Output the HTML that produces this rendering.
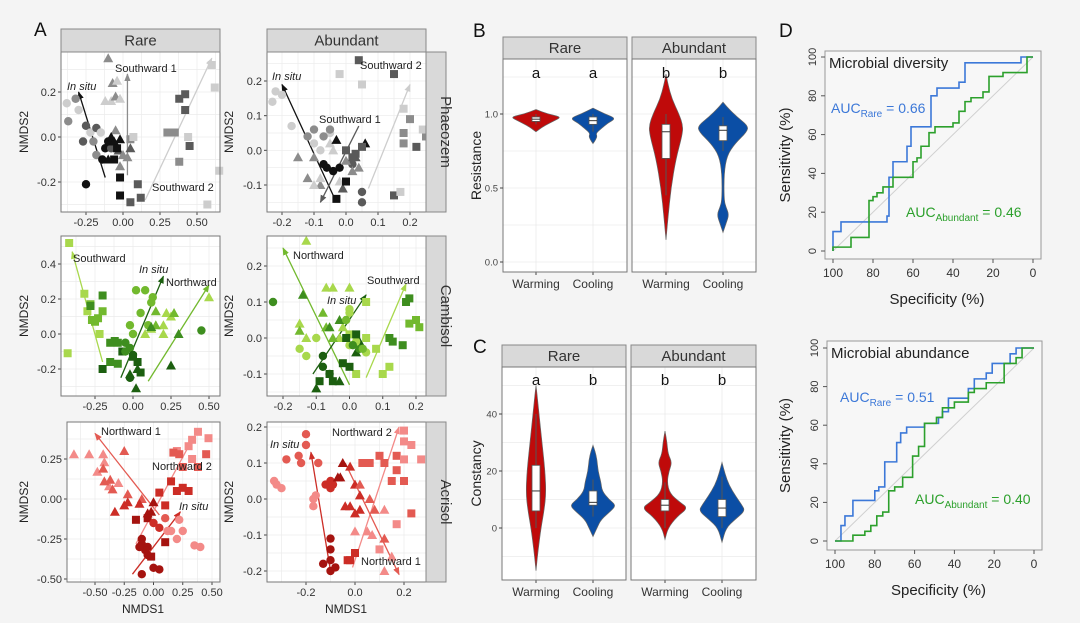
<!DOCTYPE html>
<html><head><meta charset="utf-8"><style>
html,body{margin:0;padding:0;background:#f4f4f4;}
svg{display:block;font-family:"Liberation Sans",Arial,sans-serif;}
</style></head><body>
<svg id="fig" width="1080" height="623" viewBox="0 0 1080 623" xmlns="http://www.w3.org/2000/svg">
<rect x="0" y="0" width="1080" height="623" fill="#f4f4f4"/>
</svg>
<script>
// ===== Panel A data =====
const phaeozemRarePoints=[[-0.38,0.15,'c',0],[-0.37,0.07,'c',1],[-0.32,0.17,'c',1],[-0.3,0.12,'c',0],[-0.25,0.05,'c',2],[-0.22,0.02,'c',0],[-0.2,-0.02,'c',1],[-0.18,0.04,'c',2],[-0.27,-0.02,'c',2],[-0.15,0.02,'c',0],[-0.12,-0.05,'c',3],[-0.18,-0.08,'c',1],[-0.14,-0.1,'c',3],[-0.25,-0.21,'c',3],[-0.08,-0.05,'c',2],[-0.1,-0.02,'c',3],
[-0.1,0.35,'t',1],[-0.07,0.24,'t',1],[-0.04,0.25,'t',0],[-0.12,0.16,'t',0],[-0.08,0.16,'t',0],[-0.05,0.18,'t',1],[-0.02,0.17,'t',0],[-0.05,0.03,'t',1],[-0.02,-0.01,'t',3],[-0.08,0.0,'t',3],[-0.1,-0.1,'t',3],[-0.03,-0.06,'t',2],[0.0,-0.08,'t',1],[0.03,-0.09,'t',1],[-0.02,-0.13,'t',1],[0.05,-0.05,'t',2],[-0.06,-0.02,'t',3],
[0.3,0.02,'s',1],[0.35,0.02,'s',1],[0.38,0.17,'s',2],[0.42,0.19,'s',2],[0.42,0.12,'s',2],[0.45,-0.04,'s',2],[0.44,0.0,'s',0],[0.38,-0.11,'s',1],[0.6,0.32,'s',0],[0.62,0.22,'s',0],[0.65,-0.15,'s',0],[0.57,-0.3,'s',0],[0.05,-0.01,'s',1],[0.07,0.0,'s',0],[-0.04,-0.05,'s',3],[-0.06,-0.1,'s',3],[-0.02,-0.18,'s',3],[-0.02,-0.26,'s',3],[0.05,-0.29,'s',2],[0.1,-0.21,'s',2],[0.12,-0.27,'s',2]];
const phaeozemAbundantPoints=[[-0.23,0.14,'c',0],[-0.22,0.17,'c',0],[-0.2,0.16,'c',0],[-0.17,0.07,'c',0],[-0.1,0.02,'c',0],[-0.08,0.0,'c',0],[-0.05,0.05,'c',0],[-0.1,0.06,'c',1],[-0.07,0.04,'c',1],[-0.05,0.06,'c',1],[-0.12,0.04,'c',1],[-0.07,-0.04,'c',3],[-0.06,-0.05,'c',3],[-0.04,-0.06,'c',3],[-0.02,-0.05,'c',3],[0.05,-0.12,'c',2],[0.05,-0.15,'c',2],[0.02,-0.04,'c',2],
[-0.15,-0.02,'t',1],[-0.12,-0.08,'t',1],[-0.1,-0.02,'t',1],[-0.08,-0.1,'t',1],[0.02,-0.06,'t',1],[0.04,-0.05,'t',1],[0.0,-0.03,'t',1],[-0.1,-0.1,'t',0],[-0.08,-0.08,'t',0],[-0.05,0.02,'t',0],[-0.02,-0.09,'t',0],[-0.04,0.0,'t',0],[-0.03,0.03,'t',3],[0.06,0.02,'t',3],[-0.01,-0.11,'t',2],[0.03,-0.02,'t',2],
[0.04,0.26,'s',2],[0.15,0.22,'s',2],[0.0,0.0,'s',2],[0.03,-0.01,'s',2],[0.05,0.01,'s',2],[0.02,-0.02,'s',2],[0.15,-0.13,'s',2],[0.22,0.01,'s',2],[0.2,0.09,'s',1],[-0.03,-0.14,'s',3],[0.0,-0.09,'s',3],[0.18,0.05,'s',1],[0.18,0.02,'s',1],[0.25,0.04,'s',1],[-0.02,0.22,'s',0],[0.05,0.19,'s',0],[0.18,0.12,'s',0],[0.24,0.06,'s',0],[0.27,0.05,'s',0],[0.17,-0.12,'s',0]];
const cambisolRarePoints=[[-0.42,0.52,'s',0],[-0.43,-0.11,'s',0],[-0.32,0.23,'s',0],[-0.3,0.13,'s',0],[-0.28,0.17,'s',1],[-0.22,0.0,'s',0],[-0.27,0.08,'s',1],[-0.25,0.07,'s',1],[-0.23,0.09,'s',1],[-0.28,0.16,'s',2],[-0.2,0.22,'s',2],[-0.2,0.13,'s',1],[-0.15,-0.05,'s',2],[-0.12,-0.04,'s',2],[-0.1,-0.05,'s',2],[-0.15,-0.16,'s',2],[-0.1,-0.17,'s',2],[0.0,-0.13,'s',3],[0.03,-0.16,'s',3],[0.05,-0.22,'s',3],[-0.2,-0.2,'s',3],[-0.07,-0.1,'s',3],
[0.02,0.25,'c',1],[0.08,0.25,'c',1],[0.12,0.18,'c',1],[0.05,0.12,'c',1],[0.0,0.0,'c',1],[-0.02,0.05,'c',1],[0.1,0.05,'c',1],[-0.05,-0.05,'c',2],[-0.02,-0.08,'c',2],[0.0,-0.12,'c',3],[-0.05,-0.1,'c',2],[0.45,0.02,'c',2],[-0.02,-0.25,'c',3],[0.13,0.21,'c',1],
[0.08,0.0,'t',0],[0.12,0.03,'t',0],[0.2,0.05,'t',0],[0.22,0.12,'t',0],[0.25,0.1,'t',0],[0.5,0.21,'t',0],[0.2,0.0,'t',0],[0.15,0.05,'t',1],[0.27,0.12,'t',1],[0.3,0.0,'t',2],[0.15,0.13,'t',1],[0.12,0.04,'t',2],[0.25,-0.18,'t',3],[-0.02,-0.23,'t',3],[0.03,-0.2,'t',3],[0.02,-0.31,'t',3]];
const cambisolAbundantPoints=[[-0.13,0.27,'t',0],[-0.05,0.14,'t',0],[-0.07,0.14,'t',0],[0.0,0.14,'t',0],[-0.15,0.04,'t',0],[-0.13,0.0,'t',0],[-0.02,0.03,'t',0],[-0.03,0.0,'t',0],[-0.15,0.02,'t',1],[-0.08,0.07,'t',1],[-0.05,0.0,'t',1],[-0.07,0.03,'t',1],[-0.14,0.12,'t',2],[-0.06,0.03,'t',2],[-0.03,0.05,'t',2],[0.02,-0.04,'t',3],[0.03,-0.01,'t',3],[-0.1,-0.14,'t',3],[-0.03,-0.12,'t',3],
[-0.23,0.1,'c',2],[-0.08,-0.05,'c',3],[-0.06,-0.1,'c',3],[-0.08,-0.08,'c',3],[0.03,-0.03,'c',2],[-0.15,-0.03,'c',0],[0.0,0.08,'c',0],[0.0,0.07,'c',0],[-0.1,0.0,'c',0],[0.0,-0.02,'c',0],[0.05,-0.04,'c',0],[0.02,-0.01,'c',0],[-0.13,-0.05,'c',0],[-0.01,0.05,'c',1],[0.04,-0.03,'c',1],[0.01,-0.02,'c',2],
[0.05,0.1,'s',0],[0.08,-0.03,'s',0],[0.1,-0.1,'s',0],[0.12,-0.08,'s',0],[0.02,-0.1,'s',0],[0.0,0.01,'s',0],[0.05,0.0,'s',0],[0.18,0.04,'s',1],[0.2,0.05,'s',1],[0.21,0.03,'s',1],[0.17,0.1,'s',2],[0.18,0.11,'s',2],[0.12,0.0,'s',2],[0.13,-0.01,'s',2],[0.16,-0.02,'s',2],[-0.02,-0.07,'s',3],[0.0,-0.08,'s',3],[-0.06,-0.1,'s',3],[-0.05,-0.12,'s',3],[-0.09,-0.12,'s',3],[-0.01,0.0,'s',3],[0.02,0.01,'s',3]];
const acrisolRarePoints=[[-0.68,0.28,'t',0],[-0.55,0.28,'t',0],[-0.48,0.17,'t',0],[-0.43,0.28,'t',0],[-0.42,0.23,'t',0],[-0.38,0.08,'t',0],[-0.3,0.1,'t',0],[-0.43,0.19,'t',1],[-0.37,0.12,'t',1],[-0.35,0.06,'t',1],[-0.22,0.03,'t',1],[-0.1,0.0,'t',1],[-0.25,0.3,'t',1],[-0.42,0.11,'t',1],[-0.33,-0.08,'t',2],[-0.25,-0.04,'t',2],[-0.22,-0.02,'t',2],[-0.12,-0.03,'t',2],[-0.05,-0.09,'t',3],[-0.02,-0.08,'t',3],[0.0,-0.02,'t',3],
[0.2,0.3,'s',0],[0.33,0.37,'s',0],[0.38,0.42,'s',0],[0.47,0.38,'s',0],[0.33,0.25,'s',0],[0.3,0.33,'s',0],[0.17,0.29,'s',1],[0.22,0.28,'s',1],[0.25,0.2,'s',1],[0.38,0.2,'s',1],[0.45,0.28,'s',1],[0.15,0.11,'s',2],[0.2,0.05,'s',2],[0.3,0.05,'s',2],[0.25,0.07,'s',2],[0.05,0.04,'s',2],[0.1,-0.04,'s',2],[-0.15,-0.13,'s',3],[-0.05,-0.12,'s',3],[0.1,-0.27,'s',3],[-0.02,-0.36,'s',3],
[0.35,-0.29,'c',0],[0.4,-0.3,'c',0],[0.2,-0.25,'c',0],[0.25,-0.2,'c',0],[0.15,-0.2,'c',0],[0.22,-0.13,'c',0],[0.12,-0.2,'c',0],[0.0,-0.15,'c',2],[0.05,-0.18,'c',2],[0.1,-0.12,'c',1],[-0.1,-0.25,'c',3],[-0.1,-0.28,'c',3],[-0.05,-0.3,'c',3],[-0.05,-0.35,'c',3],[0.0,-0.43,'c',3],[0.05,-0.44,'c',3],[-0.1,-0.47,'c',3],[-0.07,-0.32,'c',3],[-0.12,-0.3,'c',3]];
const acrisolAbundantPoints=[[-0.33,0.05,'c',0],[-0.32,0.04,'c',0],[-0.3,0.03,'c',0],[-0.2,0.18,'c',1],[-0.2,0.15,'c',1],[-0.22,0.1,'c',1],[-0.23,0.12,'c',1],[-0.28,0.11,'c',1],[-0.15,0.1,'c',1],[-0.17,0.0,'c',0],[-0.16,0.01,'c',0],[-0.17,-0.02,'c',0],[-0.12,0.04,'c',2],[-0.1,0.03,'c',2],[-0.1,0.05,'c',2],[-0.09,0.04,'c',2],[-0.1,-0.11,'c',3],[-0.1,-0.14,'c',3],[-0.1,-0.17,'c',3],[-0.08,-0.19,'c',3],[-0.1,-0.2,'c',3],[-0.13,-0.18,'c',3],
[-0.05,0.1,'t',3],[-0.06,0.06,'t',3],[-0.07,0.06,'t',3],[-0.02,-0.02,'t',2],[-0.04,-0.02,'t',2],[0.02,-0.03,'t',2],[0.0,-0.04,'t',2],[0.02,0.01,'t',2],[0.0,0.04,'t',2],[0.02,0.04,'t',1],[0.06,0.0,'t',1],[0.08,-0.03,'t',1],[-0.02,0.09,'t',2],[0.0,-0.09,'t',0],[0.05,-0.09,'t',0],[0.07,-0.1,'t',0],[0.12,-0.03,'t',0],[0.12,-0.11,'t',1],[0.15,-0.16,'t',0],[0.12,-0.2,'t',0],
[0.03,0.1,'s',1],[0.06,0.1,'s',1],[0.1,0.12,'s',1],[0.12,0.1,'s',1],[0.17,0.12,'s',1],[0.17,0.08,'s',1],[0.15,0.05,'s',1],[0.2,0.05,'s',1],[-0.03,-0.17,'s',2],[0.0,-0.15,'s',2],[-0.02,-0.17,'s',2],[0.2,0.19,'s',0],[0.2,0.16,'s',0],[0.23,0.15,'s',0],[0.27,0.11,'s',0],[0.2,0.11,'s',0],[0.23,-0.04,'s',1],[0.17,-0.07,'s',0],[0.1,-0.14,'s',0]];
// arrows: [x0,y0,x1,y1,colorIndex]
const phaeozemRareArrows=[[-0.12,-0.18,-0.3,0.2,3],[0.03,-0.17,0.03,0.28,1],[0.15,-0.28,0.6,0.35,0]];
const phaeozemAbundantArrows=[[-0.04,-0.13,-0.2,0.19,3],[0.04,0.07,-0.08,-0.15,2],[0.07,-0.11,0.2,0.19,0]];
const cambisolRareArrows=[[-0.2,-0.16,-0.4,0.47,0],[-0.08,-0.25,0.2,0.33,3],[0.1,-0.27,0.5,0.28,1]];
const cambisolAbundantArrows=[[0.0,-0.13,-0.2,0.25,1],[-0.11,-0.1,0.05,0.12,3],[0.05,-0.11,0.17,0.15,0]];
const acrisolRareArrows=[[0.05,-0.1,-0.5,0.41,1],[-0.15,-0.28,0.33,0.37,0],[-0.18,-0.47,0.23,-0.08,2]];
const acrisolAbundantArrows=[[-0.1,-0.2,-0.18,0.13,2],[-0.01,-0.19,0.18,0.2,0],[-0.04,0.1,0.18,-0.21,1]];
const xTicksA=[[-0.25,0,0.25,0.5],[-0.2,-0.1,0,0.1,0.2],[-0.25,0,0.25,0.5],[-0.2,-0.1,0,0.1,0.2],[-0.5,-0.25,0,0.25,0.5],[-0.2,0,0.2]];
const yTicksA=[[-0.2,0,0.2],[-0.1,0,0.1,0.2],[-0.2,0,0.2,0.4],[-0.1,0,0.1,0.2],[-0.5,-0.25,0,0.25],[-0.2,-0.1,0,0.1,0.2]];
const xDecA=[2,1,2,1,2,1];
const yDecA=[1,1,1,1,2,1];

// ===== Panel B/C data =====
const violinCategories=['Warming','Cooling','Warming','Cooling'];
const resistanceProfiles=[
 [[0.88,0],[0.92,8],[0.96,20],[0.98,25],[1.0,12],[1.03,0]],
 [[0.80,0],[0.83,3],[0.85,4],[0.87,3],[0.9,8],[0.94,15],[0.97,23],[1.0,12],[1.04,0]],
 [[0.15,0],[0.3,2],[0.5,5],[0.7,10],[0.85,16],[0.92,17],[1.0,13],[1.1,6],[1.2,2],[1.27,0]],
 [[0.2,0],[0.26,3],[0.32,6],[0.37,3],[0.42,1],[0.6,1],[0.72,4],[0.8,12],[0.88,24],[0.92,25],[0.98,14],[1.04,5],[1.08,0]]];
const resistanceBoxes=[[0.95,0.965,0.98,0.93,1.0],[0.93,0.955,0.98,0.88,1.0],[0.70,0.88,0.93,0.45,1.0],[0.82,0.89,0.92,0.75,0.98]];
const resistanceLetters=['a','a','b','b'];
const resistanceTicks=[0,0.5,1.0];
const constancyProfiles=[
 [[-15,0],[-8,2],[0,5],[6,8],[12,10],[20,9],[30,6],[40,3],[47,1],[50,0]],
 [[-3,0],[0,4],[3,8],[6,18],[8,23],[10,16],[13,9],[16,8],[20,5],[24,4],[27,2],[29,0]],
 [[-4,0],[0,3],[4,12],[7,23],[9,15],[12,5],[16,2],[20,4],[23,7],[26,3],[30,2],[34,0]],
 [[-5,0],[0,4],[3,13],[6,23],[8,20],[11,14],[15,7],[19,3],[23,0]]];
const constancyBoxes=[[6,13,22,0,40],[8,9,13,4,17],[6,8,10,0,16],[4,7,10,0,18]];
const constancyLetters=['a','b','b','b'];
const constancyTicks=[0,20,40];

// ===== Panel D data =====
const rocDivRareSpec=[100,100,96,96,73,73,72,72,70,70,63,63,61,61,51,51,48,48,37,37,34,34,6,6,0];
const rocDivRareSens=[0,10,10,15,15,18,18,38,38,46,46,54,54,64,64,80,80,84,84,87,87,97,97,100,100];
const rocDivAbSpec=[100,100,91,91,82,82,80,80,78,78,75,75,70,70,60,60,58,58,56,56,52,52,49,49,40,40,37,37,34,34,31,31,25,25,22,22,15,15,3,3,0];
const rocDivAbSens=[0,2,2,7,7,26,26,28,28,30,30,33,33,38,38,46,46,48,48,54,54,61,61,64,64,66,66,72,72,77,77,79,79,82,82,90,90,92,92,100,100];
const rocAbuRareSpec=[100,97,97,95,95,91,91,80,80,78,78,75,75,69,69,67,67,64,64,55,55,48,48,46,46,43,43,33,33,30,30,24,24,21,21,12,12,9,9,0];
const rocAbuRareSens=[0,0,8,8,13,13,21,21,26,26,28,28,41,41,51,51,56,56,59,59,61,61,64,64,67,67,74,74,79,79,84,84,87,87,92,92,97,97,100,100];
const rocAbuAbSpec=[100,91,91,85,85,82,82,79,79,76,76,73,73,70,70,66,66,61,61,58,58,55,55,49,49,46,46,40,40,33,33,30,30,24,24,15,15,9,9,6,6,0];
const rocAbuAbSens=[0,0,3,3,5,5,8,8,13,13,15,15,26,26,28,28,33,33,44,44,49,49,61,61,64,64,69,69,72,72,77,77,79,79,82,82,92,92,95,95,100,100];
const rocTicks=[100,80,60,40,20,0];

// ===== drawing =====
const NS='http://www.w3.org/2000/svg';
const svg=document.getElementById('fig');
function mk(tag,attrs,parent){const e=document.createElementNS(NS,tag);for(const k in attrs)e.setAttribute(k,attrs[k]);(parent||svg).appendChild(e);return e;}
function txt(s,x,y,size,attrs,parent){const e=mk('text',Object.assign({x:x,y:y,'font-size':size,fill:'#222'},attrs||{}),parent);e.textContent=s;return e;}
function lin(d0,p0,d1,p1){return v=>p0+(v-d0)*(p1-p0)/(d1-d0);}

const greys=['#cdcdcd','#8c8c8c','#5a5a5a','#111111'];
const greens=['#a8d84c','#72b92e','#3e8e1f','#1c5f10'];
const reds=['#f38a88','#e35a52','#cc2d26','#a5130f'];

const scatterPanels=[
 {name:'phaeozem-rare',r:[61,52,220,212],xa:[-0.25,86,0.5,197],ya:[0.2,92,-0.2,182],pts:phaeozemRarePoints,arr:phaeozemRareArrows,pal:greys,labels:[['In situ',67,86,1],['Southward 1',115,68,0],['Southward 2',152,187,0]]},
 {name:'phaeozem-abundant',r:[267,52,426,212],xa:[-0.2,282,0.2,410],ya:[0.2,81,-0.1,185],pts:phaeozemAbundantPoints,arr:phaeozemAbundantArrows,pal:greys,labels:[['In situ',272,76,1],['Southward 2',360,65,0],['Southward 1',319,119,0]]},
 {name:'cambisol-rare',r:[61,236,220,396],xa:[-0.25,95,0.5,209],ya:[0.4,264,-0.2,369],pts:cambisolRarePoints,arr:cambisolRareArrows,pal:greens,labels:[['Southward',73,258,0],['In situ',139,269,1],['Northward',166,282,0]]},
 {name:'cambisol-abundant',r:[267,236,426,396],xa:[-0.2,283,0.2,416],ya:[0.2,266,-0.1,374],pts:cambisolAbundantPoints,arr:cambisolAbundantArrows,pal:greens,labels:[['Northward',293,255,0],['In situ',327,300,1],['Southward',367,280,0]]},
 {name:'acrisol-rare',r:[67,422,220,582],xa:[-0.5,95,0.5,212],ya:[0.25,459,-0.5,579],pts:acrisolRarePoints,arr:acrisolRareArrows,pal:reds,labels:[['Northward 1',101,431,0],['Northward 2',152,466,0],['In situ',179,506,1]]},
 {name:'acrisol-abundant',r:[267,422,426,582],xa:[-0.2,306,0.2,404],ya:[0.2,427,-0.2,571],pts:acrisolAbundantPoints,arr:acrisolAbundantArrows,pal:reds,labels:[['In situ',270,444,1],['Northward 2',332,432,0],['Northward 1',361,561,0]]}
];

// arrow marker defs
const defs=mk('defs',{});
['#111','#555','#8c8c8c','#bbb'].forEach((c,i)=>{});
let markerId=0;
function arrowMarker(color){const id='m'+(markerId++);const m=mk('marker',{id:id,viewBox:'0 0 10 10',refX:9,refY:5,markerWidth:6,markerHeight:6,orient:'auto-start-reverse'},defs);mk('path',{d:'M0,1 L10,5 L0,9 z',fill:color},m);return id;}

scatterPanels.forEach((p,i)=>{
 const g=mk('g',{});
 
 
 const [x0,y0,x1,y1]=p.r;
 const sx=lin(p.xa[0],p.xa[1],p.xa[2],p.xa[3]);
 const sy=lin(p.ya[0],p.ya[1],p.ya[2],p.ya[3]);
 const bg=mk('rect',{x:x0,y:y0,width:x1-x0,height:y1-y0,fill:'#fff'},g);
 
 
 const xt=xTicksA[i],yt=yTicksA[i];
 const xs=xt[1]-xt[0],ys=yt[1]-yt[0];
 // grid minor+major
 for(let v=xt[0]-xs;v<=xt[xt.length-1]+xs+1e-9;v+=xs/2){const px=sx(v);if(px>x0&&px<x1)mk('line',{x1:px,y1:y0,x2:px,y2:y1,stroke:'#ebebeb','stroke-width':0.7},g);}
 for(let v=yt[0]-ys;v<=yt[yt.length-1]+ys+1e-9;v+=ys/2){const py=sy(v);if(py>y0&&py<y1)mk('line',{x1:x0,y1:py,x2:x1,y2:py,stroke:'#ebebeb','stroke-width':0.7},g);}
 xt.forEach(v=>{const px=sx(v);mk('line',{x1:px,y1:y1,x2:px,y2:y1+3,stroke:'#444'},g);
  const t=txt(v.toFixed(xDecA[i]).replace('-0.00','0.00'),px,y1+14,11,{'text-anchor':'middle',fill:'#333'},g);
  
  });
 yt.forEach(v=>{const py=sy(v);mk('line',{x1:x0-3,y1:py,x2:x0,y2:py,stroke:'#444'},g);
  const t=txt(v.toFixed(yDecA[i]),x0-5,py+4,11,{'text-anchor':'end',fill:'#333'},g);
  
  });
 // arrows
 p.arr.forEach(a=>{const col=p.pal[a[4]];const id=arrowMarker(col);
  const l=mk('line',{x1:sx(a[0]),y1:sy(a[1]),x2:sx(a[2]),y2:sy(a[3]),stroke:col,'stroke-width':1.3,'marker-end':'url(#'+id+')'},g);
  
  });
 // points
 p.pts.forEach(pt=>{const cx=sx(pt[0]),cy=sy(pt[1]),col=p.pal[pt[3]];let e;
  if(pt[2]==='c')e=mk('circle',{cx:cx,cy:cy,r:4.2,fill:col},g);
  else if(pt[2]==='s')e=mk('rect',{x:cx-4,y:cy-4,width:8,height:8,fill:col},g);
  else e=mk('polygon',{points:`${cx},${cy-5} ${cx-5},${cy+4} ${cx+5},${cy+4}`,fill:col},g);
  
  });
 p.labels.forEach(l=>{const t=txt(l[0],l[1],l[2]+4,11,{'font-style':l[3]?'italic':'normal',fill:'#222'},g);
  
  });
 mk('rect',{x:x0,y:y0,width:x1-x0,height:y1-y0,fill:'none',stroke:'#777','stroke-width':1},g);
 const yl=txt('NMDS2',0,0,12,{'text-anchor':'middle',transform:`translate(${i%2?233:28},${(y0+y1)/2}) rotate(-90)`,fill:'#222'},g);
 
 
});
// strips panel A
function strip(x,y,w,h,label,vertical,name){
 const r=mk('rect',{x:x,y:y,width:w,height:h,fill:'#d9d9d9',stroke:'#888','stroke-width':1});
 
 
 const t=vertical?txt(label,0,0,15,{'text-anchor':'middle',transform:`translate(${x+w/2+5},${y+h/2}) rotate(90)`,fill:'#333'}):txt(label,x+w/2,y+h/2+5,15,{'text-anchor':'middle',fill:'#333'});
 
 
}
strip(61,29,159,23,'Rare',false,'strip-rare');
strip(267,29,159,23,'Abundant',false,'strip-abundant');
strip(426,52,20,160,'Phaeozem',true,'strip-phaeozem');
strip(426,236,20,160,'Cambisol',true,'strip-cambisol');
strip(426,422,20,160,'Acrisol',true,'strip-acrisol');
[[143,'x-axis-title-left'],[346,'x-axis-title-right']].forEach(a=>{const t=txt('NMDS1',a[0],613,12,{'text-anchor':'middle'});});

// panel letters
[['A',34,36],['B',473,37],['C',473,353],['D',779,37]].forEach(l=>{const t=txt(l[0],l[1],l[2],19,{fill:'#111'});});

// ===== Violins =====
function violinPanel(opts){
 const sy=lin(opts.ya[0],opts.ya[1],opts.ya[2],opts.ya[3]);
 const facets=[[opts.fx[0],opts.fx[1],'Rare'],[opts.fx[2],opts.fx[3],'Abundant']];
 facets.forEach((f,fi)=>{
  const r=mk('rect',{x:f[0],y:opts.top,width:f[1]-f[0],height:opts.bottom-opts.top,fill:'#fff'});
  
  
  const step=opts.ticks[1]-opts.ticks[0];
  for(let v=opts.ticks[0]-step;v<=opts.ticks[opts.ticks.length-1]+step;v+=step/2){const py=sy(v);if(py>opts.top&&py<opts.bottom)mk('line',{x1:f[0],y1:py,x2:f[1],y2:py,stroke:'#ebebeb','stroke-width':0.8});}
  [0,1].forEach(k=>{const cx=opts.cx[fi*2+k];mk('line',{x1:cx,y1:opts.top,x2:cx,y2:opts.bottom,stroke:'#ebebeb','stroke-width':0.8});});
  strip(f[0],opts.stripTop,f[1]-f[0],opts.top-opts.stripTop,f[2],false,opts.name+'-strip-'+f[2].toLowerCase());
 });
 opts.profiles.forEach((prof,i)=>{
  const cx=opts.cx[i];const col=i%2?'#0b4ea5':'#bf0a0a';
  const right=prof.map(p=>[cx+p[1],sy(p[0])]);const left=prof.slice().reverse().map(p=>[cx-p[1],sy(p[0])]);
  const pts=right.concat(left);
  let d='M'+pts[0].join(',');
  for(let j=1;j<pts.length;j++){const a=pts[j-1],b=pts[j];const mx=(a[0]+b[0])/2,my=(a[1]+b[1])/2;d+=` Q${a[0]},${a[1]} ${mx},${my}`;}
  d+=' L'+pts[pts.length-1].join(',')+' Z';
  const v=mk('path',{d:d,fill:col,stroke:'#666','stroke-width':0.7});
  
  
  const b=opts.boxes[i];
  mk('line',{x1:cx,y1:sy(b[3]),x2:cx,y2:sy(b[4]),stroke:'#555','stroke-width':1});
  const bx=mk('rect',{x:cx-4,y:sy(b[2]),width:8,height:sy(b[0])-sy(b[2]),fill:'#fff',stroke:'#555','stroke-width':0.8});
  
  
  mk('line',{x1:cx-4,y1:sy(b[1]),x2:cx+4,y2:sy(b[1]),stroke:'#333','stroke-width':1});
  const lt=txt(opts.letters[i],cx,opts.letterY,15,{'text-anchor':'middle',fill:'#111'});
  
  
  const xl=txt(violinCategories[i],cx,opts.labelY,12,{'text-anchor':'middle',fill:'#333'});
  
  
  mk('line',{x1:cx,y1:opts.bottom,x2:cx,y2:opts.bottom+3,stroke:'#444'});
 });
 facets.forEach(f=>mk('rect',{x:f[0],y:opts.top,width:f[1]-f[0],height:opts.bottom-opts.top,fill:'none',stroke:'#777'}));
 opts.ticks.forEach(v=>{const py=sy(v);mk('line',{x1:opts.fx[0]-3,y1:py,x2:opts.fx[0],y2:py,stroke:'#444'});
  const t=txt(opts.fmt(v),opts.fx[0]-5,py+3.5,9.5,{'text-anchor':'end',fill:'#444'});
  
  });
 const yt=txt(opts.ytitle,0,0,14,{'text-anchor':'middle',transform:`translate(${opts.ytx},${(opts.top+opts.bottom)/2}) rotate(-90)`});
 
 
}
violinPanel({name:'resistance',fx:[503,627,632,756],top:59,bottom:272,stripTop:37,ya:[1.0,114,0.0,262],ticks:resistanceTicks,fmt:v=>v.toFixed(1),profiles:resistanceProfiles,boxes:resistanceBoxes,letters:resistanceLetters,cx:[536,593,666,723],letterY:78,labelY:288,ytitle:'Resistance',ytx:481});
violinPanel({name:'constancy',fx:[502,626,631,756],top:367,bottom:580,stripTop:345,ya:[40,414,0,528],ticks:constancyTicks,fmt:v=>String(v),profiles:constancyProfiles,boxes:constancyBoxes,letters:constancyLetters,cx:[536,593,665,722],letterY:385,labelY:596,ytitle:'Constancy',ytx:481});

// ===== ROC =====
function rocPanel(o){
 const sx=lin(100,o.x100,0,o.x0),sy=lin(100,o.y100,0,o.y0);
 const fr=mk('rect',{x:o.box[0],y:o.box[1],width:o.box[2]-o.box[0],height:o.box[3]-o.box[1],fill:'#f7f7f7',stroke:'#999','stroke-width':1});
 
 
 mk('line',{x1:sx(100),y1:sy(0),x2:sx(0),y2:sy(100),stroke:'#d0d0d0','stroke-width':1});
 [[o.rs,o.rn,'#3c78d8','roc-rare'],[o.as,o.an,'#2ca02c','roc-abundant']].forEach(s=>{
  const pts=s[0].map((v,k)=>sx(v)+','+sy(s[1][k])).join(' ');
  const pl=mk('polyline',{points:pts,fill:'none',stroke:s[2],'stroke-width':1.6});
  
  
 });
 rocTicks.forEach(v=>{
  mk('line',{x1:sx(v),y1:o.box[3],x2:sx(v),y2:o.box[3]+4,stroke:'#555'});
  const t=txt(String(v),sx(v),o.box[3]+18,12,{'text-anchor':'middle',fill:'#333'});
  
  
  mk('line',{x1:o.box[0]-4,y1:sy(v),x2:o.box[0],y2:sy(v),stroke:'#555'});
  const u=txt(String(v),0,0,11,{'text-anchor':'middle',transform:`translate(${o.box[0]-9},${sy(v)}) rotate(-90)`,fill:'#333'});
  
  
 });
 const xtt=txt('Specificity (%)',(o.box[0]+o.box[2])/2+4,o.box[3]+45,15,{'text-anchor':'middle'});
 
 
 const ytt=txt('Sensitivity (%)',0,0,15,{'text-anchor':'middle',transform:`translate(790,${(o.box[1]+o.box[3])/2}) rotate(-90)`});
 
 
 const tt=txt(o.title,o.box[0]+4,o.box[1]+17,15,{});
 
 
 const a1=mk('text',{x:o.l1[0],y:o.l1[1],'font-size':14,fill:'#3c78d8'});
 a1.innerHTML='AUC<tspan font-size="10" dy="4">Rare</tspan><tspan dy="-4"> = '+o.l1[2]+'</tspan>';
 
 
 const a2=mk('text',{x:o.l2[0],y:o.l2[1],'font-size':14,fill:'#2ca02c'});
 a2.innerHTML='AUC<tspan font-size="10" dy="4">Abundant</tspan><tspan dy="-4"> = '+o.l2[2]+'</tspan>';
 
 
}
rocPanel({name:'diversity',box:[825,51,1041,259],x100:833,x0:1033,y100:57,y0:251,rs:rocDivRareSpec,rn:rocDivRareSens,as:rocDivAbSpec,an:rocDivAbSens,title:'Microbial diversity',l1:[831,113,'0.66'],l2:[906,217,'0.46']});
rocPanel({name:'abundance',box:[827,341,1042,550],x100:835,x0:1034,y100:348,y0:541,rs:rocAbuRareSpec,rn:rocAbuRareSens,as:rocAbuAbSpec,an:rocAbuAbSens,title:'Microbial abundance',l1:[840,402,'0.51'],l2:[915,504,'0.40']});
</script>
</body></html>
